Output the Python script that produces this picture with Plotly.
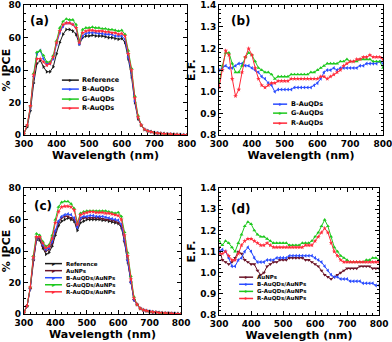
import plotly.graph_objects as go
from plotly.subplots import make_subplots

# wavelengths (nm), 10 nm steps
wl = list(range(300, 801, 10))

# tail of IPCE curves past ~650 nm
tail = [6, 3.5, 2.5, 2, 1.5, 1.2, 1, 0.8, 0.6, 0.5, 0.4, 0.3, 0.2, 0.1, 0]

# ---- panel (a): IPCE ----
ipce_ref = [1, 5, 15, 32, 44, 46, 42, 39, 39, 42, 50, 57, 62, 65, 65, 64, 62, 56, 60, 61, 61, 61.5, 61, 61, 61,
            60.5, 60, 60, 59.5, 59, 59.5, 57, 47, 36, 20, 10] + tail
ipce_b = [1, 6, 17, 36, 50, 52, 47, 44, 44, 47, 56, 63, 67, 69, 69, 68, 66, 56, 61, 62.5, 63, 63, 63, 62.5, 62.5,
          62, 62, 62, 61, 61, 61, 59, 48, 38, 21, 11] + tail
ipce_g = [1, 6, 18, 38, 51, 52, 49, 45, 45, 49, 58, 66, 70, 71.5, 71, 71, 68, 58, 65, 66, 66, 66.5, 66, 66, 65.5,
          65.5, 65, 65, 64.5, 64, 64.5, 62, 52, 41, 24, 12] + tail
ipce_r = [1, 6, 18, 37, 47, 47, 45, 43, 44, 48, 57, 64, 68, 69, 69, 68, 66, 57, 63, 64, 64.5, 64.5, 64, 64, 64,
          63.5, 63.5, 63, 63, 62, 62.5, 61, 50, 40, 23, 11] + tail

# ---- panel (b): enhancement factor ----
ef_b = [1.10, 1.11, 1.12, 1.11, 1.11, 1.12, 1.13, 1.13, 1.12, 1.12, 1.11, 1.10, 1.09, 1.07, 1.06, 1.04, 1.03, 1.00,
        1.01, 1.01, 1.01, 1.01, 1.01, 1.02, 1.02, 1.02, 1.02, 1.02, 1.02, 1.03, 1.04, 1.06, 1.09, 1.10, 1.10, 1.11,
        1.10, 1.11, 1.11, 1.11, 1.11, 1.11, 1.11, 1.12, 1.12, 1.13, 1.13, 1.13, 1.13, 1.14, 1.13]
ef_g = [1.04, 1.12, 1.18, 1.18, 1.13, 1.09, 1.09, 1.12, 1.16, 1.18, 1.17, 1.14, 1.11, 1.10, 1.09, 1.09, 1.08, 1.06,
        1.07, 1.07, 1.07, 1.07, 1.08, 1.08, 1.08, 1.08, 1.08, 1.08, 1.09, 1.09, 1.10, 1.11, 1.12, 1.13, 1.13, 1.13,
        1.13, 1.14, 1.14, 1.15, 1.14, 1.14, 1.14, 1.15, 1.15, 1.15, 1.15, 1.14, 1.14, 1.14, 1.11]
ef_r = [1.02, 1.10, 1.19, 1.17, 1.06, 0.98, 1.01, 1.09, 1.16, 1.20, 1.17, 1.11, 1.06, 1.03, 1.02, 1.03, 1.04, 1.04,
        1.05, 1.05, 1.05, 1.05, 1.06, 1.06, 1.06, 1.06, 1.06, 1.06, 1.06, 1.06, 1.06, 1.07, 1.07, 1.06, 1.07, 1.08,
        1.09, 1.10, 1.12, 1.13, 1.14, 1.14, 1.15, 1.15, 1.16, 1.16, 1.17, 1.16, 1.16, 1.16, 1.15]

# ---- panel (c): IPCE with AuNPs ----
ipce2_ref = [1, 5, 16, 34, 47, 47, 42, 38, 39, 43, 50, 56, 59, 60, 61, 60, 59, 53, 58, 59, 60, 60, 60, 60, 60,
             59.5, 59.5, 59, 58.5, 58, 57.5, 55, 46, 33, 20, 9] + tail
ipce2_np = [1, 5, 16, 34, 48, 48, 43, 40, 41, 45, 52, 58, 61, 62, 62, 61, 60, 55, 60, 61, 61, 61, 61, 61, 61,
            60.5, 60, 60, 59.5, 59, 58, 56, 46, 34, 20, 9] + tail
ipce2_b = [1, 5, 16, 35, 48, 49, 44, 41, 42, 46, 53, 59, 62, 63, 63.5, 63, 61, 55, 61, 62, 62, 62.5, 62.5, 62, 62,
           62, 61.5, 61, 60.5, 60, 59.5, 57, 47, 34, 20, 9] + tail
ipce2_g = [1, 5, 17, 37, 51, 50, 46, 43, 44, 50, 60, 68, 71, 71.5, 71.5, 70, 67, 58, 64, 65, 65.5, 65.5, 65.5, 65.5,
           65.5, 65.5, 65.5, 65, 64.5, 64, 64.5, 62, 52, 39, 24, 11] + tail
ipce2_r = [1, 5, 17, 36, 49, 49, 45, 42, 43, 48, 58, 65, 68, 68.5, 68.5, 68, 66, 57, 63, 64, 64.5, 65, 65, 64.5,
           64.5, 64.5, 64, 64, 63.5, 63, 62.5, 60, 50, 37, 22, 10] + tail

# ---- panel (d): enhancement factor with AuNPs ----
ef2_np = [1.12, 1.06, 1.05, 1.04, 1.05, 1.07, 1.10, 1.09, 1.06, 1.05, 1.04, 1.04, 1.01, 0.99, 1.00, 1.03, 1.04, 1.05,
          1.05, 1.06, 1.06, 1.06, 1.07, 1.07, 1.07, 1.07, 1.07, 1.06, 1.06, 1.05, 1.04, 1.03, 1.01, 0.99, 0.98, 0.97,
          0.98, 0.99, 1.00, 1.01, 1.02, 1.02, 1.02, 1.02, 1.03, 1.03, 1.03, 1.03, 1.02, 1.02, 1.02]
ef2_b = [1.10, 1.11, 1.10, 1.07, 1.03, 1.03, 1.06, 1.07, 1.10, 1.12, 1.10, 1.07, 1.05, 1.05, 1.05, 1.06, 1.06, 1.06,
         1.07, 1.07, 1.07, 1.07, 1.08, 1.08, 1.08, 1.08, 1.08, 1.08, 1.08, 1.08, 1.07, 1.06, 1.05, 1.03, 1.01, 0.99,
         0.98, 0.98, 0.97, 0.97, 0.97, 0.96, 0.96, 0.96, 0.96, 0.95, 0.95, 0.95, 0.95, 0.94, 0.94]
ef2_g = [1.15, 1.13, 1.15, 1.14, 1.12, 1.10, 1.14, 1.18, 1.22, 1.24, 1.23, 1.20, 1.18, 1.17, 1.17, 1.16, 1.15, 1.14,
         1.14, 1.14, 1.14, 1.14, 1.13, 1.13, 1.13, 1.13, 1.14, 1.14, 1.14, 1.15, 1.17, 1.19, 1.22, 1.25, 1.22, 1.17,
         1.12, 1.10, 1.08, 1.07, 1.06, 1.05, 1.05, 1.05, 1.05, 1.05, 1.06, 1.06, 1.07, 1.07, 1.06]
ef2_r = [1.09, 1.09, 1.10, 1.08, 1.06, 1.06, 1.09, 1.13, 1.15, 1.16, 1.16, 1.15, 1.14, 1.13, 1.13, 1.14, 1.13, 1.12,
         1.12, 1.12, 1.12, 1.12, 1.12, 1.12, 1.12, 1.12, 1.12, 1.13, 1.13, 1.13, 1.15, 1.17, 1.19, 1.21, 1.19, 1.14,
         1.10, 1.08, 1.06, 1.05, 1.05, 1.05, 1.05, 1.05, 1.05, 1.05, 1.05, 1.05, 1.05, 1.05, 1.05]

BLACK = "#1a1a1a"
BLUE = "#2a4cff"
GREEN = "#1ec81e"
RED = "#ff2a3a"
MAROON = "#6a1428"
FONT = "DejaVu Sans"

fig = make_subplots(rows=2, cols=2)

def add(y, color, sym, row, col):
    fig.add_trace(go.Scatter(x=wl, y=y, mode="lines+markers", showlegend=False,
                             line=dict(color=color, width=1),
                             marker=dict(color=color, size=3.5, symbol=sym)),
                  row=row, col=col)

add(ipce_ref, BLACK, "triangle-right", 1, 1)
add(ipce_b, BLUE, "triangle-left", 1, 1)
add(ipce_g, GREEN, "triangle-up", 1, 1)
add(ipce_r, RED, "star", 1, 1)
add(ef_b, BLUE, "triangle-left", 1, 2)
add(ef_g, GREEN, "triangle-up", 1, 2)
add(ef_r, RED, "star", 1, 2)
add(ipce2_ref, BLACK, "triangle-right", 2, 1)
add(ipce2_np, MAROON, "triangle-down", 2, 1)
add(ipce2_b, BLUE, "triangle-left", 2, 1)
add(ipce2_g, GREEN, "triangle-up", 2, 1)
add(ipce2_r, RED, "star", 2, 1)
add(ef2_np, MAROON, "triangle-down", 2, 2)
add(ef2_b, BLUE, "triangle-left", 2, 2)
add(ef2_g, GREEN, "triangle-up", 2, 2)
add(ef2_r, RED, "star", 2, 2)

tick_font = dict(family=FONT, size=9, color="black", weight="bold")
title_font = dict(family=FONT, size=11, color="black", weight="bold")
ax_common = dict(showline=True, linecolor="black", linewidth=1, mirror="ticks",
                 ticks="inside", ticklen=4, tickcolor="black", tickfont=tick_font,
                 showgrid=False, zeroline=False, automargin=False, ticklabeloverflow="allow",
                 minor=dict(ticks="inside", ticklen=2, tickcolor="black"))

doms = {
    1: ([0.061, 0.477], [0.605, 0.985]),
    2: ([0.559, 0.977], [0.605, 0.985]),
    3: ([0.061, 0.462], [0.082, 0.450]),
    4: ([0.559, 0.967], [0.079, 0.450]),
}
for i in range(1, 5):
    xd, yd = doms[i]
    sfx = "" if i == 1 else str(i)
    fig.layout["xaxis" + sfx].update(domain=xd, range=[300, 800], dtick=100, **ax_common,
                                     title=dict(text="Wavelength (nm)", font=title_font, standoff=0))
    if i in (1, 3):
        fig.layout["yaxis" + sfx].update(domain=yd, range=[0, 80], dtick=20, **ax_common,
                                         title=dict(text="% IPCE", font=title_font, standoff=1))
    else:
        fig.layout["yaxis" + sfx].update(domain=yd, range=[0.8, 1.4], dtick=0.1, tickformat=".1f",
                                         **ax_common,
                                         title=dict(text="E.F.", font=title_font, standoff=2))

# panel letters
labels = [("(a)", 0.025, 0.877, 1), ("(b)", 0.06, 0.877, 2), ("(c)", 0.05, 0.857, 3), ("(d)", 0.0625, 0.837, 4)]
for txt, lx, ly, i in labels:
    sfx = "" if i == 1 else str(i)
    fig.add_annotation(text=txt, x=lx, y=ly, xref="x%s domain" % sfx, yref="y%s domain" % sfx,
                       xanchor="left", yanchor="middle", showarrow=False,
                       font=dict(family=FONT, size=12, color="black", weight="bold"))

# hand-drawn legends
def legend(i, names, colors, ys, x0, x1, fs):
    sfx = "" if i == 1 else str(i)
    xr, yr = "x%s domain" % sfx, "y%s domain" % sfx
    for n, c, yy in zip(names, colors, ys):
        fig.add_shape(type="line", xref=xr, yref=yr, x0=x0, x1=x1, y0=yy, y1=yy,
                      line=dict(color=c, width=1.5))
        fig.add_annotation(text="▸", x=(x0 + x1) / 2, y=yy, xref=xr, yref=yr, showarrow=False,
                           font=dict(size=6, color=c), xanchor="center", yanchor="middle")
        fig.add_annotation(text=n, x=x1 + 0.01, y=yy, xref=xr, yref=yr, showarrow=False,
                           xanchor="left", yanchor="middle",
                           font=dict(family=FONT, size=fs, color="black", weight="bold"))

legend(1, ["Reference", "B-AuQDs", "G-AuQDs", "R-AuQDs"], [BLACK, BLUE, GREEN, RED],
       [0.423, 0.354, 0.277, 0.208], 0.233, 0.337, 6.5)
legend(2, ["B-AuQDs", "G-AuQDs", "R-AuQDs"], [BLUE, GREEN, RED],
       [0.238, 0.169, 0.092], 0.329, 0.415, 6.5)
legend(3, ["Reference", "AuNPs", "B-AuQDs/AuNPs", "G-AuQDs/AuNPs", "R-AuQDs/AuNPs"],
       [BLACK, MAROON, BLUE, GREEN, RED], [0.400, 0.344, 0.288, 0.232, 0.176], 0.134, 0.242, 5.5)
legend(4, ["AuNPs", "B-AuQDs/AuNPs", "G-AuQDs/AuNPs", "R-AuQDs/AuNPs"],
       [MAROON, BLUE, GREEN, RED], [0.298, 0.242, 0.186, 0.130], 0.125, 0.2125, 5.5)

fig.update_layout(width=392, height=342, margin=dict(l=0, r=0, t=0, b=0, autoexpand=False),
                  plot_bgcolor="white", paper_bgcolor="white", showlegend=False)

# drop the browser's default 8px body margin so the figure sits at the page corner
fig.write_html("out.html", config={"displayModeBar": False},
               post_script="document.body.style.margin='0';")
